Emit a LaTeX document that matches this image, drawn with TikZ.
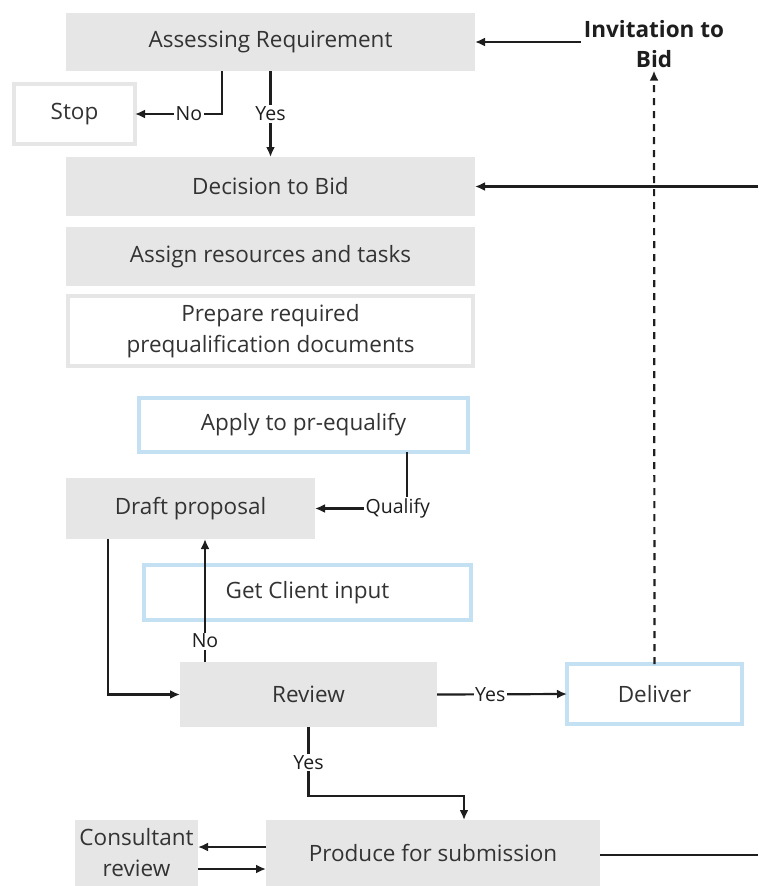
\documentclass[tikz,border=0pt]{standalone}
\usepackage{fontspec}
\setmainfont{Open Sans}
\usetikzlibrary{arrows.meta}
\definecolor{boxgray}{HTML}{E6E6E6}
\definecolor{boxblue}{HTML}{C4E1F4}
\definecolor{txt}{HTML}{333333}
\definecolor{ink}{HTML}{1E1E1E}
\begin{document}
\begin{tikzpicture}[x=1pt,y=-1pt,
  every node/.style={text=txt, font=\fontsize{22.5}{31}\selectfont, inner sep=0pt, outer sep=0pt, align=center},
  grayfill/.style={fill=boxgray, draw=none},
  grayframe/.style={fill=white, draw=boxgray, line width=4pt},
  blueframe/.style={fill=white, draw=boxblue, line width=4pt},
  arr/.style={draw=ink, line width=2.2pt, -{Latex[length=10pt,width=9pt]}},
  plain/.style={draw=ink, line width=2.2pt},
  lbl/.style={fill=white, text=ink, font=\fontsize{19.5}{22}\selectfont, inner sep=1.5pt}
]
\useasboundingbox (0,0) rectangle (758,886);

% process boxes
\node[grayfill, minimum width=409pt, minimum height=58pt] (assess) at (270.5,42) {Assessing Requirement};
\node[grayframe, minimum width=121pt, minimum height=60pt] (stop) at (74.5,114) {Stop};
\node[grayfill, minimum width=409pt, minimum height=59pt] (decide) at (270.5,186.5) {Decision to Bid};
\node[grayfill, minimum width=409pt, minimum height=59pt] (assign) at (270.5,256.5) {Assign resources and tasks};
\node[grayframe, minimum width=405pt, minimum height=70pt] (prepare) at (270.5,331) {Prepare required\\prequalification documents};
\node[blueframe, minimum width=329pt, minimum height=54pt] (apply) at (303.5,425) {Apply to pr-equalify};
\node[grayfill, minimum width=249pt, minimum height=61pt] (draft) at (190.5,508.5) {Draft proposal};
\node[blueframe, minimum width=327pt, minimum height=55pt] (client) at (307.5,592.5) {Get Client input};
\node[grayfill, minimum width=257pt, minimum height=65pt] (review) at (308.5,694.5) {Review};
\node[blueframe, minimum width=175pt, minimum height=60pt] (deliver) at (654.5,694) {Deliver};
\node[grayfill, minimum width=334pt, minimum height=66pt] (produce) at (433,853) {Produce for submission};
\node[grayfill, minimum width=123pt, minimum height=66pt] (consult) at (136.5,853) {Consultant\\review};
\node[font=\bfseries\fontsize{22.5}{30}\selectfont, text=ink, inner sep=3pt] (invite) at (654,44) {Invitation to\\Bid};

% free ends at the right margin
\coordinate (rightA) at (758,186.5);
\coordinate (rightB) at (758,855);

% connectors
\draw[arr] (invite.west |- assess.east) -- (assess.east);
\draw[arr] (rightA) -- (decide.east);
\draw[arr, dashed, dash pattern=on 7pt off 6pt] (deliver.north) -- (invite.south);
\draw[arr] ([xshift=-48.5pt]assess.south) |- node[lbl, pos=0.69] {No} (stop.east);
\draw[arr] (assess.south) -- node[lbl, pos=0.5] {Yes} (decide.north);
\draw[arr] ([xshift=103.5pt]apply.south) |- node[lbl, pos=0.55] {Qualify} (draft.east);
\draw[arr] ([xshift=-82.5pt]draft.south) |- (review.west);
\draw[arr] ([xshift=-103.5pt]review.north) -- node[lbl, pos=0.17] {No} ([xshift=-103.5pt]review.north |- draft.south);
\draw[arr] (review.east) -- node[lbl, pos=0.41] {Yes} (deliver.west);
\draw[arr] (review.south) -- node[lbl, pos=0.52] {Yes} ++(0,69) -| ([xshift=31pt]produce.north);
\draw[arr] ([yshift=6pt]produce.west) -- ([yshift=6pt]consult.east);
\draw[arr] ([yshift=-16pt]consult.east) -- ([yshift=-16pt]produce.west);
\draw[plain] ([yshift=-2pt]produce.east) -- (rightB);
\end{tikzpicture}
\end{document}
